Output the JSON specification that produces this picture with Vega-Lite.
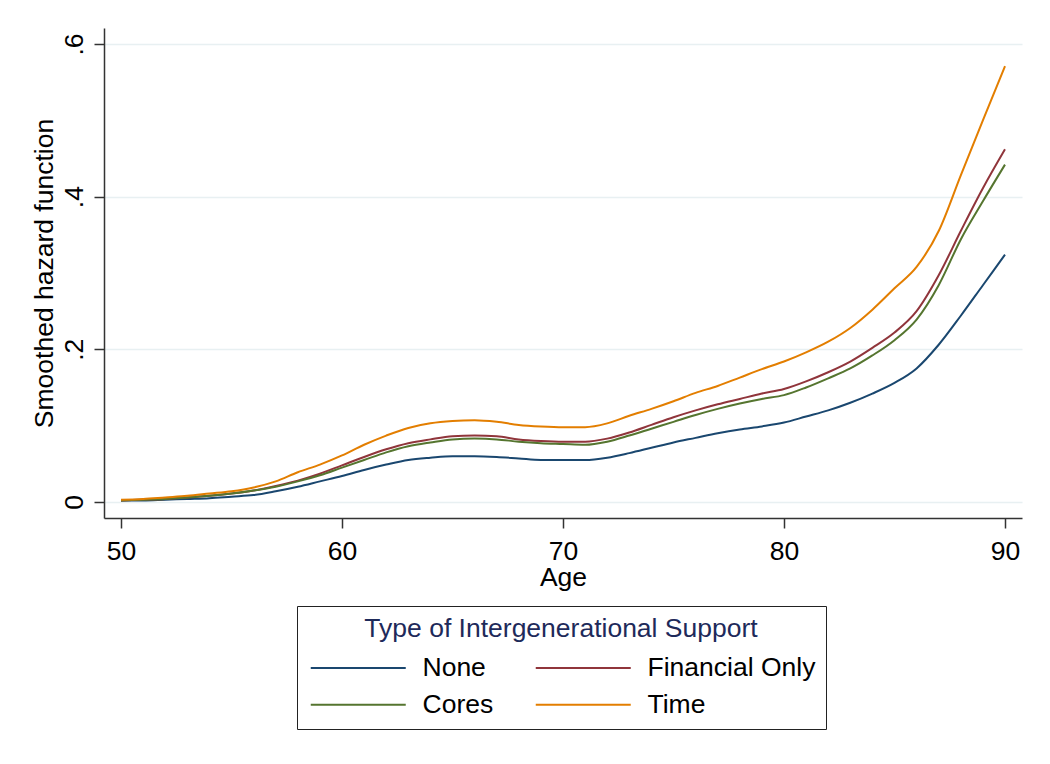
{
  "$schema": "https://vega.github.io/schema/vega-lite/v6.json",
  "width": 918,
  "height": 490,
  "autosize": {"type": "none"},
  "padding": {"left": 104, "top": 28, "right": 28, "bottom": 246},
  "background": "white",
  "config": {"view": {"stroke": null}, "font": "Liberation Sans"},
  "data": {"values": [
    {"age":50,"group":"None","h":0.002},{"age":51,"group":"None","h":0.002},{"age":52,"group":"None","h":0.003},{"age":53,"group":"None","h":0.004},{"age":54,"group":"None","h":0.005},{"age":55,"group":"None","h":0.007},{"age":56,"group":"None","h":0.009},{"age":57,"group":"None","h":0.014},{"age":58,"group":"None","h":0.020},{"age":59,"group":"None","h":0.027},{"age":60,"group":"None","h":0.034},{"age":61,"group":"None","h":0.042},{"age":62,"group":"None","h":0.049},{"age":63,"group":"None","h":0.055},{"age":64,"group":"None","h":0.058},{"age":65,"group":"None","h":0.060},{"age":66,"group":"None","h":0.060},{"age":67,"group":"None","h":0.059},{"age":68,"group":"None","h":0.057},{"age":69,"group":"None","h":0.055},{"age":70,"group":"None","h":0.055},{"age":71,"group":"None","h":0.055},{"age":72,"group":"None","h":0.058},{"age":73,"group":"None","h":0.064},{"age":74,"group":"None","h":0.071},{"age":75,"group":"None","h":0.078},{"age":76,"group":"None","h":0.084},{"age":77,"group":"None","h":0.090},{"age":78,"group":"None","h":0.095},{"age":79,"group":"None","h":0.099},{"age":80,"group":"None","h":0.104},{"age":81,"group":"None","h":0.112},{"age":82,"group":"None","h":0.120},{"age":83,"group":"None","h":0.130},{"age":84,"group":"None","h":0.142},{"age":85,"group":"None","h":0.156},{"age":86,"group":"None","h":0.175},{"age":87,"group":"None","h":0.206},{"age":88,"group":"None","h":0.244},{"age":89,"group":"None","h":0.284},{"age":90,"group":"None","h":0.324},
    {"age":50,"group":"Financial Only","h":0.002},{"age":51,"group":"Financial Only","h":0.003},{"age":52,"group":"Financial Only","h":0.004},{"age":53,"group":"Financial Only","h":0.006},{"age":54,"group":"Financial Only","h":0.008},{"age":55,"group":"Financial Only","h":0.011},{"age":56,"group":"Financial Only","h":0.015},{"age":57,"group":"Financial Only","h":0.021},{"age":58,"group":"Financial Only","h":0.028},{"age":59,"group":"Financial Only","h":0.037},{"age":60,"group":"Financial Only","h":0.048},{"age":61,"group":"Financial Only","h":0.059},{"age":62,"group":"Financial Only","h":0.069},{"age":63,"group":"Financial Only","h":0.077},{"age":64,"group":"Financial Only","h":0.082},{"age":65,"group":"Financial Only","h":0.086},{"age":66,"group":"Financial Only","h":0.087},{"age":67,"group":"Financial Only","h":0.086},{"age":68,"group":"Financial Only","h":0.082},{"age":69,"group":"Financial Only","h":0.080},{"age":70,"group":"Financial Only","h":0.079},{"age":71,"group":"Financial Only","h":0.079},{"age":72,"group":"Financial Only","h":0.083},{"age":73,"group":"Financial Only","h":0.091},{"age":74,"group":"Financial Only","h":0.101},{"age":75,"group":"Financial Only","h":0.111},{"age":76,"group":"Financial Only","h":0.120},{"age":77,"group":"Financial Only","h":0.128},{"age":78,"group":"Financial Only","h":0.135},{"age":79,"group":"Financial Only","h":0.142},{"age":80,"group":"Financial Only","h":0.148},{"age":81,"group":"Financial Only","h":0.158},{"age":82,"group":"Financial Only","h":0.170},{"age":83,"group":"Financial Only","h":0.184},{"age":84,"group":"Financial Only","h":0.202},{"age":85,"group":"Financial Only","h":0.222},{"age":86,"group":"Financial Only","h":0.250},{"age":87,"group":"Financial Only","h":0.297},{"age":88,"group":"Financial Only","h":0.355},{"age":89,"group":"Financial Only","h":0.411},{"age":90,"group":"Financial Only","h":0.462},
    {"age":50,"group":"Cores","h":0.002},{"age":51,"group":"Cores","h":0.003},{"age":52,"group":"Cores","h":0.004},{"age":53,"group":"Cores","h":0.006},{"age":54,"group":"Cores","h":0.008},{"age":55,"group":"Cores","h":0.011},{"age":56,"group":"Cores","h":0.015},{"age":57,"group":"Cores","h":0.020},{"age":58,"group":"Cores","h":0.027},{"age":59,"group":"Cores","h":0.035},{"age":60,"group":"Cores","h":0.045},{"age":61,"group":"Cores","h":0.055},{"age":62,"group":"Cores","h":0.065},{"age":63,"group":"Cores","h":0.073},{"age":64,"group":"Cores","h":0.078},{"age":65,"group":"Cores","h":0.082},{"age":66,"group":"Cores","h":0.083},{"age":67,"group":"Cores","h":0.082},{"age":68,"group":"Cores","h":0.079},{"age":69,"group":"Cores","h":0.077},{"age":70,"group":"Cores","h":0.076},{"age":71,"group":"Cores","h":0.075},{"age":72,"group":"Cores","h":0.079},{"age":73,"group":"Cores","h":0.087},{"age":74,"group":"Cores","h":0.096},{"age":75,"group":"Cores","h":0.105},{"age":76,"group":"Cores","h":0.114},{"age":77,"group":"Cores","h":0.122},{"age":78,"group":"Cores","h":0.129},{"age":79,"group":"Cores","h":0.135},{"age":80,"group":"Cores","h":0.140},{"age":81,"group":"Cores","h":0.150},{"age":82,"group":"Cores","h":0.162},{"age":83,"group":"Cores","h":0.175},{"age":84,"group":"Cores","h":0.192},{"age":85,"group":"Cores","h":0.212},{"age":86,"group":"Cores","h":0.239},{"age":87,"group":"Cores","h":0.284},{"age":88,"group":"Cores","h":0.344},{"age":89,"group":"Cores","h":0.394},{"age":90,"group":"Cores","h":0.442},
    {"age":50,"group":"Time","h":0.003},{"age":51,"group":"Time","h":0.004},{"age":52,"group":"Time","h":0.006},{"age":53,"group":"Time","h":0.008},{"age":54,"group":"Time","h":0.011},{"age":55,"group":"Time","h":0.014},{"age":56,"group":"Time","h":0.019},{"age":57,"group":"Time","h":0.027},{"age":58,"group":"Time","h":0.039},{"age":59,"group":"Time","h":0.049},{"age":60,"group":"Time","h":0.061},{"age":61,"group":"Time","h":0.075},{"age":62,"group":"Time","h":0.087},{"age":63,"group":"Time","h":0.097},{"age":64,"group":"Time","h":0.103},{"age":65,"group":"Time","h":0.106},{"age":66,"group":"Time","h":0.107},{"age":67,"group":"Time","h":0.105},{"age":68,"group":"Time","h":0.101},{"age":69,"group":"Time","h":0.099},{"age":70,"group":"Time","h":0.098},{"age":71,"group":"Time","h":0.098},{"age":72,"group":"Time","h":0.103},{"age":73,"group":"Time","h":0.113},{"age":74,"group":"Time","h":0.122},{"age":75,"group":"Time","h":0.132},{"age":76,"group":"Time","h":0.143},{"age":77,"group":"Time","h":0.152},{"age":78,"group":"Time","h":0.163},{"age":79,"group":"Time","h":0.174},{"age":80,"group":"Time","h":0.184},{"age":81,"group":"Time","h":0.196},{"age":82,"group":"Time","h":0.210},{"age":83,"group":"Time","h":0.228},{"age":84,"group":"Time","h":0.252},{"age":85,"group":"Time","h":0.280},{"age":86,"group":"Time","h":0.308},{"age":87,"group":"Time","h":0.355},{"age":88,"group":"Time","h":0.428},{"age":89,"group":"Time","h":0.500},{"age":90,"group":"Time","h":0.571}
  ]},
  "mark": {"type": "line", "strokeWidth": 2, "interpolate": "monotone"},
  "encoding": {
    "x": {
      "field": "age", "type": "quantitative",
      "scale": {"domain": [49.23, 90.77], "nice": false, "zero": false},
      "axis": {
        "values": [50, 60, 70, 80, 90], "grid": false,
        "domainColor": "#333333", "domainWidth": 1.5,
        "tickColor": "#333333", "tickWidth": 1.5, "tickSize": 10,
        "labelFontSize": 26.5, "labelColor": "black", "labelPadding": 10,
        "title": "Age", "titleFontSize": 26.5, "titleFontWeight": "normal", "titleColor": "black", "titlePadding": 0
      }
    },
    "y": {
      "field": "h", "type": "quantitative",
      "scale": {"domain": [-0.021, 0.621], "nice": false, "zero": false},
      "axis": {
        "values": [0, 0.2, 0.4, 0.6],
        "labelExpr": "datum.value == 0 ? '0' : '.' + round(datum.value * 10)",
        "grid": true, "gridColor": "#e8f0f2", "gridWidth": 1.5,
        "domainColor": "#333333", "domainWidth": 1.5,
        "tickColor": "#333333", "tickWidth": 1.5, "tickSize": 10,
        "labelFontSize": 26.5, "labelColor": "black", "labelAngle": 270,
        "labelAlign": "center", "labelBaseline": "bottom", "labelPadding": 6,
        "title": "Smoothed hazard function", "titleFontSize": 26.5, "titleFontWeight": "normal", "titleColor": "black", "titlePadding": 3
      }
    },
    "color": {
      "field": "group", "type": "nominal",
      "scale": {"domain": ["None", "Financial Only", "Cores", "Time"], "range": ["#1a476f", "#90353b", "#55752f", "#e37e00"]},
      "legend": {
        "title": "Type of Intergenerational Support",
        "orient": "none", "legendX": 193, "legendY": 578,
        "direction": "horizontal", "columns": 2, "columnPadding": 37, "rowPadding": 10,
        "symbolType": "M-1,0H9", "symbolSize": 361, "symbolStrokeWidth": 2,
        "labelFontSize": 26.5, "labelColor": "black", "labelOffset": 89, "labelLimit": 0,
        "titleFontSize": 26.5, "titleFontWeight": "normal", "titleColor": "#1e2a5a",
        "titleAnchor": "middle", "titlePadding": 12, "titleLimit": 0,
        "padding": 10, "strokeColor": "#222222", "fillColor": "white"
      }
    }
  }
}
